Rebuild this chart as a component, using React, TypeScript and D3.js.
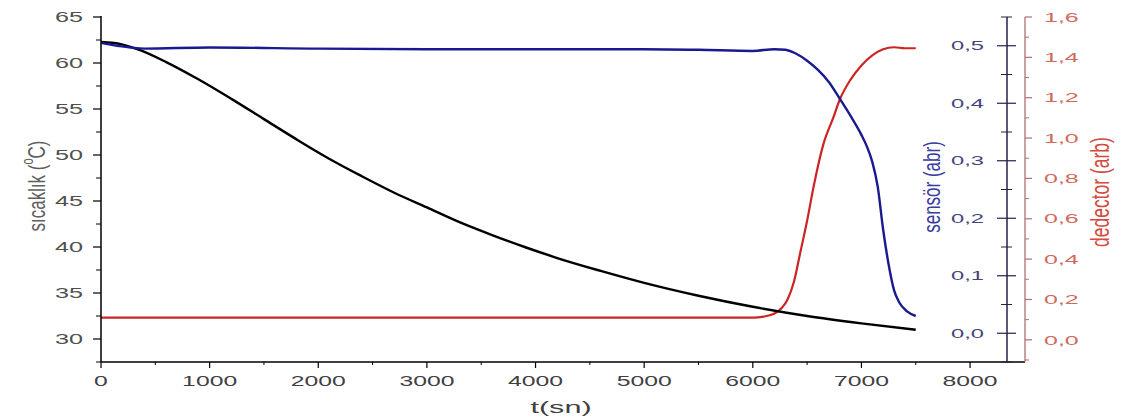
import React from "react";
import * as d3 from "d3";

const tempT = [0, 100, 200, 360, 600, 900, 1200, 1500, 1800, 2100, 2400, 2700, 3000, 3300, 3600, 3900, 4200, 4600, 5000, 5500, 6000, 6500, 7000, 7500];
const tempV = [62.3, 62.2, 62.0, 61.4, 60.1, 58.2, 56.1, 53.9, 51.7, 49.6, 47.7, 45.9, 44.3, 42.7, 41.3, 40.0, 38.8, 37.4, 36.1, 34.7, 33.5, 32.5, 31.7, 31.0];

const sensT = [0, 150, 400, 1000, 2000, 3000, 4000, 5000, 5500, 6000, 6200, 6300, 6400, 6500, 6600, 6700, 6800, 6900, 7000, 7050, 7100, 7150, 7200, 7250, 7300, 7350, 7420, 7500];
const sensV = [0.505, 0.5, 0.495, 0.497, 0.495, 0.494, 0.494, 0.494, 0.493, 0.491, 0.494, 0.493, 0.486, 0.474, 0.458, 0.437, 0.408, 0.378, 0.345, 0.325, 0.298, 0.255, 0.18, 0.12, 0.075, 0.053, 0.038, 0.03];

const detT = [0, 1000, 2000, 3000, 4000, 5000, 6000, 6100, 6200, 6270, 6320, 6380, 6440, 6500, 6560, 6650, 6740, 6800, 6900, 7000, 7100, 7200, 7300, 7400, 7500];
const detV = [0.11, 0.11, 0.11, 0.11, 0.11, 0.11, 0.11, 0.115, 0.13, 0.16, 0.2, 0.29, 0.44, 0.59, 0.76, 0.97, 1.1, 1.19, 1.29, 1.36, 1.41, 1.44, 1.45, 1.445, 1.445];

const xTicks = [0, 1000, 2000, 3000, 4000, 5000, 6000, 7000, 8000];
const tempTicks = [30, 35, 40, 45, 50, 55, 60, 65];
const sensTicks = [0, 0.1, 0.2, 0.3, 0.4, 0.5];
const detTicks = [0, 0.2, 0.4, 0.6, 0.8, 1.0, 1.2, 1.4, 1.6];

const FONT = "'Liberation Sans', Arial, sans-serif";

const L = 101, R = 1007, RD = 1025, TOP = 17, BOT = 362;

function Txt({ x, y, anchor = "middle", size = 14, sx = 1.6, fill = "#555", rotate = false, children }: any) {
  return (
    <text
      transform={`translate(${x},${y}) scale(${sx},1)${rotate ? " rotate(-90)" : ""}`}
      textAnchor={anchor}
      dominantBaseline="central"
      fontFamily={FONT}
      fontSize={size}
      fill={fill}
    >
      {children}
    </text>
  );
}

const fmt = (v: number) => v.toFixed(1).replace(".", ",");

export default function App() {
  const x = d3.scaleLinear().domain([0, 8340]).range([L, R]);
  const yT = d3.scaleLinear().domain([27.5, 65]).range([BOT, TOP]);
  const yS = d3.scaleLinear().domain([-0.05, 0.55]).range([BOT, TOP]);
  const yD = d3.scaleLinear().domain([-0.11, 1.6]).range([BOT, TOP]);

  const mk = (ts: number[], vs: number[], ys: any) =>
    d3.line<number>().x((_, i) => x(ts[i])).y((v) => ys(v)).curve(d3.curveMonotoneX)(vs) || "";

  const xMinor = d3.range(500, 8340, 1000);
  const tMinor = d3.range(27.5, 65.1, 5);
  const sMinor = [-0.05, 0.05, 0.15, 0.25, 0.35, 0.45, 0.55];
  const dMinor = d3.range(-0.1, 1.6, 0.2);

  return (
    <svg width={1123} height={419} style={{ position: "absolute", left: 0, top: 0, background: "#fff" }}>
      {/* curves */}
      <path d={mk(detT, detV, yD)} fill="none" stroke="#cc2424" strokeWidth={2.2} />
      <path d={mk(tempT, tempV, yT)} fill="none" stroke="#000" strokeWidth={2.4} />
      <path d={mk(sensT, sensV, yS)} fill="none" stroke="#1a1a90" strokeWidth={2.4} />

      {/* left axis */}
      <line x1={L} x2={L} y1={TOP - 1} y2={BOT} stroke="#000" strokeWidth={1.5} />
      {tempTicks.map((v) => (
        <g key={"t" + v}>
          <line x1={L - 8} x2={L} y1={yT(v)} y2={yT(v)} stroke="#000" strokeWidth={1.2} />
          <Txt x={83} y={yT(v)} anchor="end" size={14} sx={1.8} fill="#505050">{v}</Txt>
        </g>
      ))}
      {tMinor.map((v) => (
        <line key={"tm" + v} x1={L - 5} x2={L} y1={yT(v)} y2={yT(v)} stroke="#000" strokeWidth={1} />
      ))}

      {/* bottom axis */}
      <line x1={L} x2={RD} y1={BOT} y2={BOT} stroke="#000" strokeWidth={1.5} />
      {xTicks.map((v) => (
        <g key={"x" + v}>
          <line x1={x(v)} x2={x(v)} y1={BOT} y2={BOT + 6} stroke="#000" strokeWidth={1.2} />
          <Txt x={x(v)} y={381} size={15} sx={1.65} fill="#404040">{v}</Txt>
        </g>
      ))}
      {xMinor.map((v) => (
        <line key={"xm" + v} x1={x(v)} x2={x(v)} y1={BOT} y2={BOT + 3} stroke="#000" strokeWidth={1} />
      ))}

      {/* sensor axis */}
      <line x1={R} x2={R} y1={TOP} y2={BOT} stroke="#22224a" strokeWidth={1.5} />
      {sensTicks.map((v) => (
        <g key={"s" + v}>
          <line x1={R - 10} x2={R + 9} y1={yS(v)} y2={yS(v)} stroke="#22224a" strokeWidth={1.2} />
          <Txt x={984} y={yS(v)} anchor="end" size={12.5} sx={1.9} fill="#45457e">{fmt(v)}</Txt>
        </g>
      ))}
      {sMinor.map((v) => (
        <line key={"sm" + v} x1={R - 6} x2={R + 5} y1={yS(v)} y2={yS(v)} stroke="#22224a" strokeWidth={1} />
      ))}

      {/* detector axis */}
      <line x1={RD} x2={RD} y1={TOP} y2={BOT} stroke="#b07070" strokeWidth={1.3} />
      {detTicks.map((v) => (
        <g key={"d" + v}>
          <line x1={RD} x2={RD + 7} y1={yD(v)} y2={yD(v)} stroke="#b07070" strokeWidth={1.2} />
          <Txt x={1044} y={yD(v)} anchor="start" size={13.5} sx={1.85} fill="#d06a5c">{fmt(v)}</Txt>
        </g>
      ))}
      {dMinor.map((v) => (
        <line key={"dm" + v} x1={RD} x2={RD + 4} y1={yD(v)} y2={yD(v)} stroke="#b07070" strokeWidth={1} />
      ))}

      {/* titles */}
      <Txt x={36} y={186} size={17} sx={1.45} fill="#606060" rotate>
        sıcaklık (<tspan fontSize={11} dy={-6}>o</tspan><tspan dy={6}>C)</tspan>
      </Txt>
      <Txt x={931} y={187} size={17} sx={1.45} fill="#3a3aa0" rotate>sensör (abr)</Txt>
      <Txt x={1100} y={192} size={17.5} sx={1.45} fill="#d24a40" rotate>dedector (arb)</Txt>
      <Txt x={561} y={407} size={17} sx={1.8} fill="#404040">t(sn)</Txt>
    </svg>
  );
}
